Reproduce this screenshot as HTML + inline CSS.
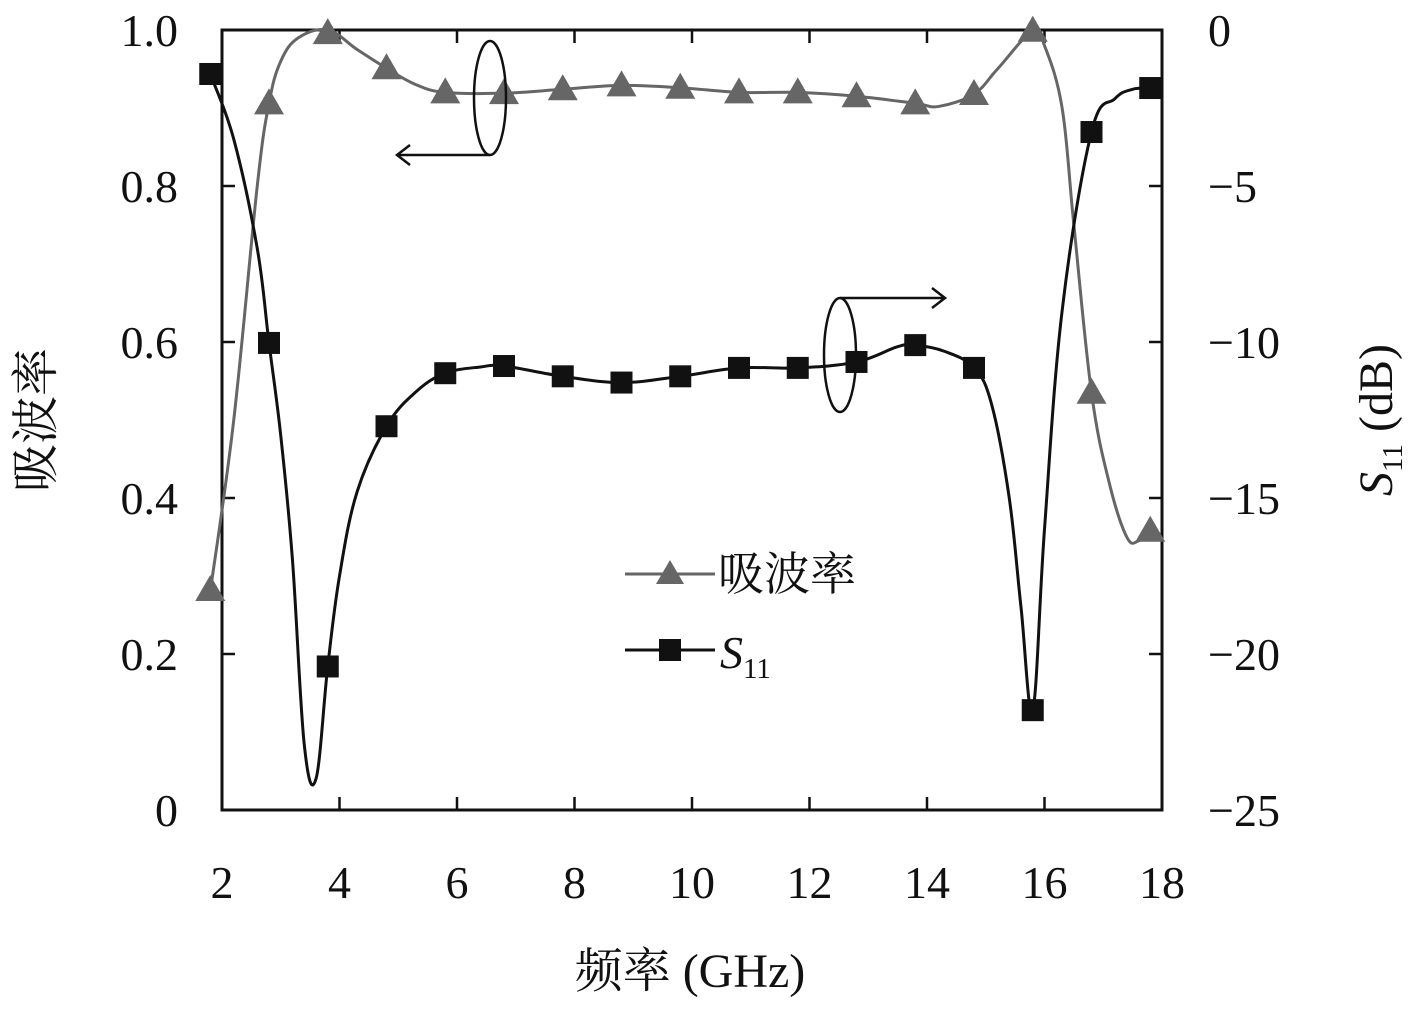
<!DOCTYPE html>
<html><head><meta charset="utf-8"><style>
html,body{margin:0;padding:0;background:#fff;}
svg text{font-family:"Liberation Serif","Noto Serif CJK SC",serif;fill:#111;}
</style></head><body>
<svg id="chart" width="1417" height="1016" viewBox="0 0 1417 1016" xmlns="http://www.w3.org/2000/svg">
<g id="axes"></g>
<g id="series"></g>
<g id="annot">
 <ellipse cx="490" cy="98" rx="16" ry="57" fill="none" stroke="#111" stroke-width="2.5"/>
 <line x1="490" y1="155" x2="397" y2="155" stroke="#111" stroke-width="2.5"/>
 <polyline points="410,145 397,155 410,165" fill="none" stroke="#111" stroke-width="2.5"/>
 <ellipse cx="840" cy="355" rx="16" ry="57" fill="none" stroke="#111" stroke-width="2.5"/>
 <line x1="840" y1="298" x2="945" y2="298" stroke="#111" stroke-width="2.5"/>
 <polyline points="932,288 945,298 932,308" fill="none" stroke="#111" stroke-width="2.5"/>
</g>
<g>
 <line x1="625" y1="574" x2="715" y2="574" stroke="#666" stroke-width="3"/>
 <polygon points="670,560 684,584 656,584" fill="#666"/>
 <text x="718" y="590" font-size="46">吸波率</text>
 <line x1="625" y1="650" x2="715" y2="650" stroke="#111" stroke-width="3"/>
 <rect x="659" y="639" width="22" height="22" fill="#111"/>
 <text x="720" y="668" font-size="46" font-style="italic">S<tspan font-size="29" font-style="normal" dy="10">11</tspan></text>
</g>
<text x="690" y="987" font-size="48" text-anchor="middle">频率 (GHz)</text>
<text transform="translate(52,420) rotate(-90)" font-size="48" text-anchor="middle">吸波率</text>
<text transform="translate(1392,420) rotate(-90)" font-size="48" text-anchor="middle"><tspan font-style="italic">S</tspan><tspan font-size="29" dy="10">11</tspan><tspan dy="-10"> (dB)</tspan></text>
</svg>
<script>
const xTicks=[2,4,6,8,10,12,14,16,18];
const leftTicks=[0,0.2,0.4,0.6,0.8,1.0];
const leftTickLabels=["0","0.2","0.4","0.6","0.8","1.0"];
const rightTicks=[0,-5,-10,-15,-20,-25];
const rightTickLabels=["0","−5","−10","−15","−20","−25"];
const markerFreq=[1.8,2.8,3.8,4.8,5.8,6.8,7.8,8.8,9.8,10.8,11.8,12.8,13.8,14.8,15.8,16.8,17.8];
const absorbMarkers=[0.282,0.906,0.996,0.951,0.92,0.919,0.924,0.929,0.926,0.92,0.92,0.915,0.906,0.918,0.999,0.535,0.358];
const s11Markers=[-1.41,-10.03,-20.4,-12.7,-11.0,-10.77,-11.1,-11.3,-11.1,-10.83,-10.83,-10.64,-10.1,-10.83,-21.8,-3.27,-1.86];
const absorbLineFreq=[1.8,2.2,2.6,2.8,3.0,3.3,3.8,4.3,4.8,5.3,5.8,6.8,7.8,8.8,9.8,10.8,11.8,12.8,13.8,14.2,14.8,15.2,15.8,16.0,16.3,16.5,16.8,17.1,17.4,17.6,17.8];
const absorbLine=[0.28,0.5,0.8,0.906,0.96,0.99,1.0,0.975,0.951,0.93,0.92,0.919,0.924,0.929,0.926,0.92,0.92,0.915,0.906,0.902,0.918,0.95,0.999,0.98,0.9,0.75,0.535,0.42,0.35,0.345,0.358];
const s11LineFreq=[1.8,2.2,2.6,2.8,3.0,3.2,3.4,3.6,3.8,4.0,4.3,4.8,5.3,5.8,6.4,6.8,7.8,8.8,9.8,10.8,11.8,12.8,13.5,13.8,14.3,14.8,15.1,15.4,15.6,15.8,16.0,16.3,16.8,17.2,17.5,17.8];
const s11Line=[-1.41,-3.5,-7,-10.03,-13,-17,-22.9,-24.0,-20.4,-17.5,-14.8,-12.7,-11.6,-11.0,-10.8,-10.77,-11.1,-11.3,-11.1,-10.83,-10.83,-10.64,-10.15,-10.1,-10.3,-10.83,-12,-15,-18.5,-21.8,-16,-9,-3.27,-2.2,-1.9,-1.86];

const L=222,R=1162,T=30,B=810;
const xS=f=>L+(f-2)/16*(R-L);
const yL=v=>B-v*(B-T);
const yR=d=>T+(-d)/25*(B-T);
const NS="http://www.w3.org/2000/svg";
function mk(tag,parent,attrs){const e=document.createElementNS(NS,tag);for(const k in attrs)e.setAttribute(k,attrs[k]);parent.appendChild(e);return e;}
function smooth(pts){let d=`M${pts[0][0]},${pts[0][1]}`;
 for(let i=0;i<pts.length-1;i++){const p0=pts[Math.max(0,i-1)],p1=pts[i],p2=pts[i+1],p3=pts[Math.min(pts.length-1,i+2)];
  const t=0.18;
  const c1=[p1[0]+(p2[0]-p0[0])*t,p1[1]+(p2[1]-p0[1])*t];
  const c2=[p2[0]-(p3[0]-p1[0])*t,p2[1]-(p3[1]-p1[1])*t];
  d+=` C${c1[0]},${c1[1]} ${c2[0]},${c2[1]} ${p2[0]},${p2[1]}`;}
 return d;}
const axes=document.getElementById('axes'), series=document.getElementById('series');
const frame=mk('rect',axes,{x:L,y:T,width:R-L,height:B-T,fill:'none',stroke:'#111','stroke-width':3});


xTicks.forEach(t=>{const x=xS(t);
 mk('line',axes,{x1:x,y1:B,x2:x,y2:B-13,stroke:'#111','stroke-width':2.5});
 mk('line',axes,{x1:x,y1:T,x2:x,y2:T+13,stroke:'#111','stroke-width':2.5});
 const tx=mk('text',axes,{x:x,y:898,'font-size':46,'text-anchor':'middle'});tx.textContent=t;
 
 
});
leftTicks.forEach((t,i)=>{const y=yL(t);
 mk('line',axes,{x1:L,y1:y,x2:L+13,y2:y,stroke:'#111','stroke-width':2.5});
 const tx=mk('text',axes,{x:178,y:y+16,'font-size':46,'text-anchor':'end'});tx.textContent=leftTickLabels[i];
 
 
});
rightTicks.forEach((t,i)=>{const y=yR(t);
 mk('line',axes,{x1:R,y1:y,x2:R-13,y2:y,stroke:'#111','stroke-width':2.5});
 const tx=mk('text',axes,{x:1208,y:y+16,'font-size':46,'text-anchor':'start'});tx.textContent=rightTickLabels[i];
 
 
});
const ap=mk('path',series,{d:smooth(absorbLineFreq.map((f,i)=>[xS(f),yL(absorbLine[i])])),fill:'none',stroke:'#666','stroke-width':3,'stroke-linejoin':'round'});


const sp=mk('path',series,{d:smooth(s11LineFreq.map((f,i)=>[xS(f),yR(s11Line[i])])),fill:'none',stroke:'#111','stroke-width':3,'stroke-linejoin':'round'});


markerFreq.forEach((f,i)=>{const x=xS(f),y=yL(absorbMarkers[i]);
 const p=mk('polygon',series,{points:`${x},${y-15} ${x+15},${y+11} ${x-15},${y+11}`,fill:'#666'});
 
 
 const y2=yR(s11Markers[i]);
 const r=mk('rect',series,{x:x-11,y:y2-11,width:22,height:22,fill:'#111'});
 
 
});
</script>
</body></html>
